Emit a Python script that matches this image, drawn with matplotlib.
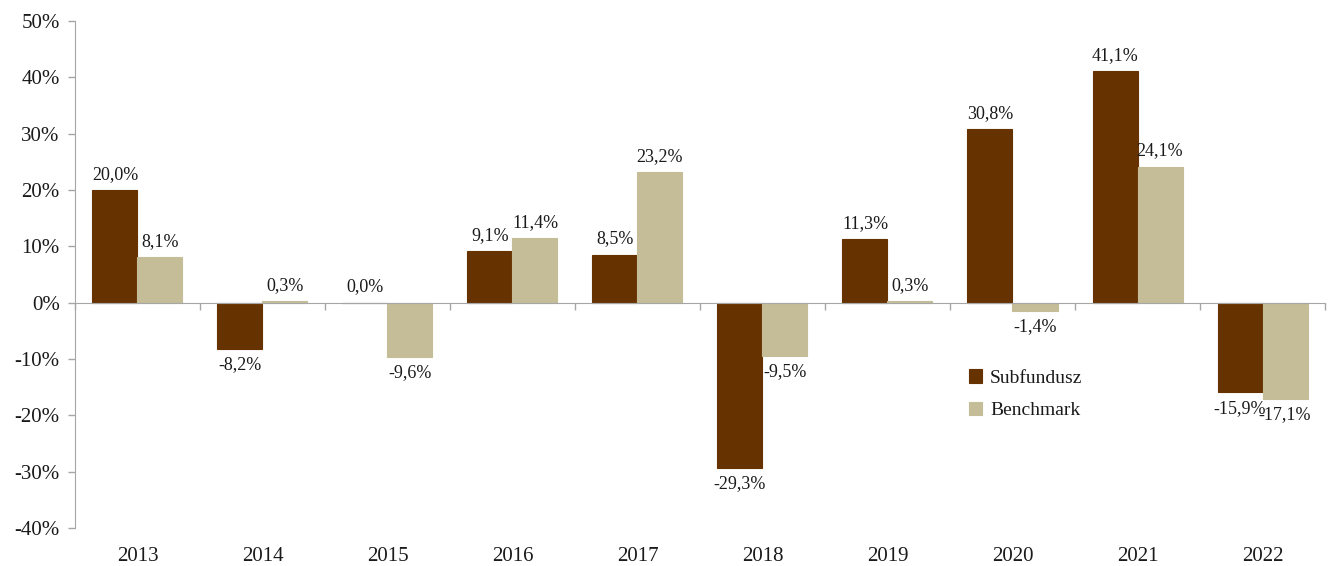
import matplotlib
matplotlib.use("Agg")
import matplotlib.pyplot as plt
import numpy as np
from matplotlib.ticker import FuncFormatter

years = ["2013", "2014", "2015", "2016", "2017", "2018", "2019", "2020", "2021", "2022"]
subfundusz = [20.0, -8.2, 0.0, 9.1, 8.5, -29.3, 11.3, 30.8, 41.1, -15.9]
benchmark = [8.1, 0.3, -9.6, 11.4, 23.2, -9.5, 0.3, -1.4, 24.1, -17.1]
series_names = ["Subfundusz", "Benchmark"]
colors = ["#663300", "#C4BD97"]

plt.rcParams['font.family'] = ['Liberation Serif', 'DejaVu Serif']

fig = plt.figure(figsize=(13.29, 5.66), dpi=100)
ax = fig.add_axes([0.0564, 0.067, 0.9406, 0.896])

x = np.arange(len(years))
w = 0.36
txtcol = "#1a1a1a"
for vals, off, col, name in [(subfundusz, -w/2, colors[0], series_names[0]),
                             (benchmark, w/2, colors[1], series_names[1])]:
    ax.bar(x + off, vals, width=w, color=col, edgecolor=col, linewidth=0.8, label=name, zorder=2)
    for xi, v in zip(x + off, vals):
        lab = f"{v:.1f}%".replace(".", ",")
        if v >= 0:
            ax.text(xi, v + 1.3, lab, ha="center", va="bottom", fontsize=13, color=txtcol)
        else:
            ax.text(xi, v - 1.3, lab, ha="center", va="top", fontsize=13, color=txtcol)

ax.set_xlim(-0.5, len(years) - 0.5)
ax.set_ylim(-40, 50)
ax.set_yticks(np.arange(-40, 51, 10))
ax.yaxis.set_major_formatter(FuncFormatter(lambda v, p: f"{v:.0f}%"))
ax.tick_params(axis="y", labelsize=15, colors="#A6A6A6", labelcolor=txtcol, length=5, width=1, pad=6)

for s in ["top", "right"]:
    ax.spines[s].set_visible(False)
ax.spines["left"].set_color("#A6A6A6")
ax.spines["bottom"].set_position(("data", 0))
ax.spines["bottom"].set_color("#A6A6A6")
ax.set_xticks(np.arange(-0.5, len(years), 1.0))
ax.set_xticklabels([])
ax.tick_params(axis="x", length=5, width=1, colors="#A6A6A6", direction="out")
for xi, y in zip(x, years):
    ax.text(xi, -0.056, y, transform=ax.get_xaxis_transform(), ha="center", va="center",
            fontsize=15, color=txtcol)

ax.legend(loc="upper left", bbox_to_anchor=(0.715, 0.313), frameon=False, fontsize=14,
          borderaxespad=0, borderpad=0,
          handlelength=0.7, handleheight=0.7, handletextpad=0.4, labelspacing=0.75, labelcolor=txtcol)

fig.savefig("out.png", dpi=100)
